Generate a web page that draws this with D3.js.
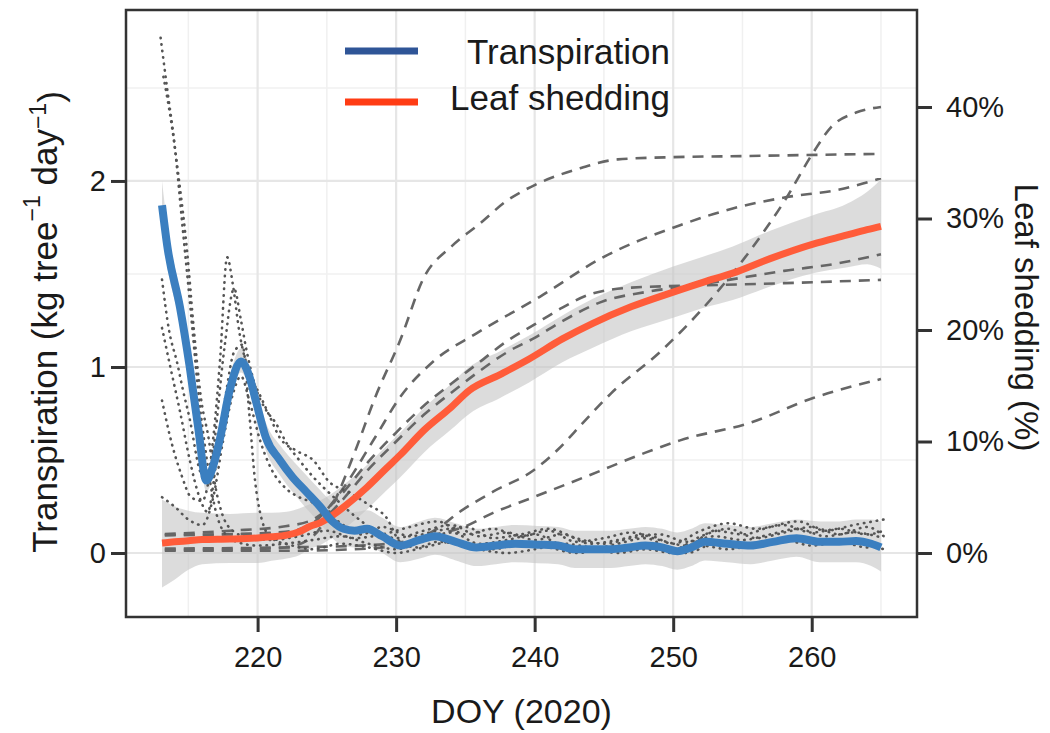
<!DOCTYPE html>
<html>
<head>
<meta charset="utf-8">
<script src="https://cdn.jsdelivr.net/npm/d3@7"></script>
<style>
    body { margin: 0; background: #fff; }
    text { font-family: "Liberation Sans", Arial, sans-serif; fill: #1a1a1a; }
</style>
</head>
<body>
<div id="chart"></div>
<script>

// ---- data ----

// mean transpiration (kg tree-1 day-1): [day, mean, lower, upper]
const trans_mean = [
    [213.1, 1.87, 1.72, 2.00], [213.5, 1.64, 1.53, 1.75], [214.4, 1.32, 1.24, 1.40],
    [215.1, 1.00, 0.93, 1.07], [215.7, 0.68, 0.62, 0.74], [216.3, 0.39, 0.33, 0.45],
    [216.8, 0.47, 0.41, 0.53], [217.3, 0.62, 0.56, 0.68], [218.0, 0.88, 0.82, 0.95],
    [218.8, 1.03, 0.97, 1.10], [219.4, 0.95, 0.89, 1.01], [219.9, 0.81, 0.75, 0.88],
    [220.6, 0.62, 0.55, 0.70], [221.6, 0.50, 0.42, 0.58], [222.5, 0.41, 0.33, 0.50],
    [223.5, 0.33, 0.24, 0.42], [224.5, 0.25, 0.16, 0.34], [225.4, 0.17, 0.08, 0.27],
    [226.2, 0.13, 0.04, 0.23], [227.0, 0.12, 0.03, 0.22], [227.9, 0.13, 0.04, 0.23],
    [229.0, 0.09, 0.00, 0.19], [230.3, 0.04, -0.05, 0.14], [231.7, 0.07, -0.03, 0.17],
    [232.8, 0.09, -0.01, 0.19], [234.3, 0.06, -0.04, 0.16], [235.8, 0.03, -0.07, 0.13],
    [237.2, 0.04, -0.06, 0.14], [238.6, 0.05, -0.05, 0.15], [240.2, 0.045, -0.055, 0.145],
    [241.7, 0.04, -0.06, 0.14], [242.9, 0.02, -0.08, 0.12], [244.2, 0.02, -0.08, 0.12],
    [245.5, 0.02, -0.08, 0.12], [246.8, 0.03, -0.07, 0.13], [248.0, 0.04, -0.06, 0.14],
    [249.2, 0.03, -0.07, 0.13], [250.3, 0.01, -0.09, 0.11], [251.3, 0.03, -0.07, 0.13],
    [252.3, 0.06, -0.04, 0.16], [253.9, 0.05, -0.05, 0.15], [255.6, 0.04, -0.06, 0.14],
    [257.2, 0.06, -0.04, 0.16], [258.9, 0.08, -0.02, 0.18], [260.6, 0.06, -0.05, 0.17],
    [262.0, 0.06, -0.05, 0.17], [263.2, 0.065, -0.05, 0.18], [264.3, 0.05, -0.07, 0.18],
    [265.0, 0.03, -0.10, 0.17]
];

// mean leaf shedding (%): [day, mean, lower, upper]
const leaf_mean = [
    [213.1, 0.9, -3.1, 4.8], [214.0, 1.0, -2.4, 4.2], [215.0, 1.1, -1.5, 3.8],
    [216.0, 1.2, -1.0, 3.6], [218.0, 1.25, -0.9, 3.5], [220.0, 1.35, -0.9, 3.6],
    [221.0, 1.45, -0.7, 3.6], [222.1, 1.6, -0.5, 3.7], [223.0, 1.9, -0.2, 4.0],
    [223.8, 2.4, 0.4, 4.4], [224.5, 2.7, 0.7, 4.7], [225.2, 3.2, 1.2, 5.2],
    [226.4, 4.3, 2.3, 6.3], [227.9, 5.9, 3.9, 7.9], [229.3, 7.6, 5.6, 9.6],
    [230.3, 8.8, 6.8, 10.8], [232.0, 11.0, 9.0, 13.0], [233.9, 13.0, 11.0, 15.1],
    [235.3, 14.6, 12.5, 16.7], [237.5, 16.0, 13.9, 18.1], [239.6, 17.4, 15.3, 19.5],
    [242.0, 19.2, 17.1, 21.3], [244.2, 20.6, 18.4, 22.8], [247.0, 22.1, 19.9, 24.3],
    [250.0, 23.4, 21.1, 25.7], [252.2, 24.3, 22.0, 26.6], [254.3, 25.1, 22.7, 27.5],
    [257.0, 26.4, 23.9, 28.9], [260.1, 27.7, 25.1, 30.3], [262.5, 28.5, 25.6, 31.3],
    [264.0, 29.0, 25.9, 32.4], [265.0, 29.3, 25.5, 33.5]
];

// individual trees, transpiration (dotted)
const tree_trans_1 = [[213.0,2.77],[213.5,2.48],[214.0,2.2],[214.6,1.74],[215.2,1.28],[215.7,0.88],[216.3,0.52],[216.9,0.25],[217.5,0.12],[218.5,0.06],[220,0.04],[222,0.05],[224,0.07],[226,0.09],[228,0.05],[230,0.02],[232,0.07],[234,0.11],[236,0.05],[238,0.07],[240,0.1],[242,0.04],[244,0.02],[246,0.05],[248,0.08],[250,0.02],[252,0.09],[254,0.13],[256,0.08],[258,0.11],[260,0.14],[262,0.1],[264,0.14],[265.2,0.09]];
const tree_trans_2 = [[213.2,2.56],[213.8,2.3],[214.3,2.02],[214.9,1.63],[215.4,1.2],[215.9,0.84],[216.5,0.6],[216.9,0.38],[217.4,0.22],[218.2,0.12],[219.5,0.08],[221,0.07],[223,0.09],[225,0.12],[227,0.08],[229,0.1],[231,0.14],[233,0.17],[235,0.1],[237,0.13],[239,0.09],[241,0.12],[243,0.06],[245,0.08],[247,0.11],[249,0.07],[251,0.04],[253,0.12],[255,0.1],[257,0.14],[259,0.17],[261,0.12],[263,0.15],[265.2,0.18]];
const tree_trans_3 = [[213.1,1.47],[213.6,1.2],[214.2,1.02],[214.6,0.88],[215.1,0.72],[215.8,0.45],[216.3,0.38],[216.8,0.62],[217.3,1.05],[217.8,1.59],[218.2,1.45],[218.7,1.18],[219.4,0.97],[220.1,0.86],[220.9,0.73],[221.6,0.62],[222.8,0.55],[224,0.5],[225.2,0.38],[226.5,0.33],[228,0.26],[229.3,0.19],[230.3,0.06],[231.5,0.03],[233,0.06],[235,0.04],[237,0.02],[239,0.05],[241,0.03],[243,0.0],[245,0.02],[247,0.04],[249,0.03],[251,0.0],[253,0.05],[255,0.03],[257,0.06],[259,0.08],[261,0.05],[263,0.06],[265.2,0.02]];
const tree_trans_4 = [[213.1,0.82],[213.8,0.59],[214.5,0.42],[215.2,0.3],[216,0.28],[216.8,0.55],[217.6,1.1],[218.3,1.42],[218.8,1.25],[219.2,1.09],[219.9,0.88],[220.6,0.77],[221.3,0.7],[222.1,0.59],[223,0.5],[224,0.41],[225.5,0.3],[227,0.2],[228.5,0.12],[230,0.08],[232,0.12],[234,0.15],[236,0.09],[238,0.11],[240,0.07],[242,0.1],[244,0.05],[246,0.07],[248,0.1],[250,0.05],[252,0.12],[254,0.16],[256,0.13],[258,0.15],[260,0.11],[262,0.13],[264,0.1],[265.2,0.12]];
const tree_trans_5 = [[213.1,1.21],[213.7,1.0],[214.4,0.76],[215.1,0.5],[215.8,0.3],[216.4,0.22],[217,0.48],[217.7,0.85],[218.3,1.08],[218.9,1.12],[219.4,0.75],[219.8,0.4],[220.3,0.18],[221,0.08],[222.5,0.04],[224,0.02],[226,0.05],[228,0.03],[230,0.0],[232,0.03],[234,0.06],[236,0.02],[238,0.0],[240,0.02],[242,0.05],[244,0.03],[246,0.0],[248,0.02],[250,0.0],[252,0.04],[254,0.02],[256,0.05],[258,0.07],[260,0.04],[262,0.06],[264,0.03],[265.2,0.05]];
const tree_trans_6 = [[213.1,0.3],[214,0.25],[215,0.18],[216,0.15],[216.8,0.3],[217.5,0.6],[218.2,0.85],[218.8,0.95],[219.4,0.82],[220.2,0.6],[221,0.45],[222,0.35],[223,0.3],[224,0.27],[225,0.22],[226,0.16],[227.5,0.1],[229,0.14],[231,0.09],[233,0.12],[235,0.14],[237,0.08],[239,0.1],[241,0.13],[243,0.08],[245,0.05],[247,0.08],[249,0.1],[251,0.06],[253,0.09],[255,0.07],[257,0.1],[259,0.13],[261,0.09],[263,0.11],[265.2,0.08]];

// individual trees, leaf shedding % (dashed)
const tree_leaf_1 = [[213.3,0.3],[218,0.3],[222,0.5],[224,1.5],[225.5,4.5],[227,9],[228.5,14],[230.3,19.1],[232,24.7],[234,27.5],[236,29.5],[238,31.6],[240,33.0],[243,34.4],[246,35.3],[250,35.5],[255,35.6],[265,35.8]];
const tree_leaf_2 = [[213.3,1.6],[218,1.7],[222,1.9],[224,2.7],[226,5.5],[228.5,10.4],[230.3,14],[232.7,17.2],[235.8,19.7],[240.4,23],[244.9,26.5],[250.5,29.4],[254.3,30.9],[258.1,31.9],[262,32.6],[265,33.6]];
const tree_leaf_3 = [[213.3,1.7],[218,2.0],[222,2.4],[224,3.0],[226,5.2],[228,8.2],[230,10.8],[232,13.2],[234,15.2],[236,17.1],[238,19],[240,20.5],[242,22],[244,23.2],[247,23.8],[252,24],[258,24.2],[265,24.5]];
const tree_leaf_4 = [[213.3,1.6],[222,1.8],[224,2.3],[226,4.6],[228,7.5],[230,10],[232,12.4],[234,14.4],[236,16.3],[238,18],[240,19.3],[242,20.8],[245,22.6],[248,23.4],[252,24.1],[255,24.7],[258,25.3],[262,26],[265,26.8]];
const tree_leaf_5 = [[213.3,0.2],[222,0.2],[228,0.4],[231,1],[233,2.2],[234.6,3.7],[237,5.5],[239.9,7.4],[241.7,9.3],[243.5,11.7],[245.5,14.3],[249.2,18.2],[253.1,23.3],[255.6,27.2],[258.1,31.7],[260.1,35.9],[261.4,38.2],[263.2,39.5],[265,40]];
const tree_leaf_6 = [[213.3,0.4],[222,0.5],[228,0.7],[231,1.1],[233,1.7],[234.8,2.3],[237,3.6],[239.9,5],[244,7],[248,9],[250.5,10.1],[255.6,11.7],[260.1,13.9],[265,15.6]];

const trans_trees = [tree_trans_1, tree_trans_2, tree_trans_3, tree_trans_4, tree_trans_5, tree_trans_6];
const leaf_trees = [tree_leaf_1, tree_leaf_2, tree_leaf_3, tree_leaf_4, tree_leaf_5, tree_leaf_6];

// axis ticks
const x_ticks = [220, 230, 240, 250, 260];
const x_minor = [215, 225, 235, 245, 255, 265];
const y_ticks = [0, 1, 2];
const y_minor = [0.5, 1.5, 2.5];
const leaf_ticks = [0, 10, 20, 30, 40];

const legend_labels = ["Transpiration", "Leaf shedding"];


// ---- frame ----
const frame_width = 1050;
const frame_height = 733;
const panel = {left: 126, right: 917, top: 10, bottom: 617};

const FRAME = d3.select("#chart")
    .append("svg")
        .attr("width", frame_width)
        .attr("height", frame_height);

// scales
const X_SCALE = d3.scaleLinear()
    .domain([210.5, 267.6])
    .range([panel.left, panel.right]);

const Y_SCALE = d3.scaleLinear()
    .domain([-0.344, 2.919])
    .range([panel.bottom, panel.top]);

// leaf shedding in percent on the right
const Y2_SCALE = d3.scaleLinear()
    .domain([-5.74, 48.7])
    .range([panel.bottom, panel.top]);

// grid lines
const grid = FRAME.append("g");
grid.selectAll(".vminor").data(x_minor).enter().append("line")
    .attr("x1", d => X_SCALE(d)).attr("x2", d => X_SCALE(d))
    .attr("y1", panel.top).attr("y2", panel.bottom)
    .attr("stroke", "#f0f0f0").attr("stroke-width", 1.5);
grid.selectAll(".hminor").data(y_minor).enter().append("line")
    .attr("y1", d => Y_SCALE(d)).attr("y2", d => Y_SCALE(d))
    .attr("x1", panel.left).attr("x2", panel.right)
    .attr("stroke", "#f0f0f0").attr("stroke-width", 1.5);
grid.selectAll(".vmajor").data(x_ticks).enter().append("line")
    .attr("x1", d => X_SCALE(d)).attr("x2", d => X_SCALE(d))
    .attr("y1", panel.top).attr("y2", panel.bottom)
    .attr("stroke", "#e6e6e6").attr("stroke-width", 2.2);
grid.selectAll(".hmajor").data(y_ticks).enter().append("line")
    .attr("y1", d => Y_SCALE(d)).attr("y2", d => Y_SCALE(d))
    .attr("x1", panel.left).attr("x2", panel.right)
    .attr("stroke", "#e6e6e6").attr("stroke-width", 2.2);

// clip to panel
FRAME.append("defs").append("clipPath")
    .attr("id", "clip")
    .append("rect")
        .attr("x", panel.left).attr("y", panel.top)
        .attr("width", panel.right - panel.left)
        .attr("height", panel.bottom - panel.top);

const plot = FRAME.append("g").attr("clip-path", "url(#clip)");

// ribbons
const trans_area = d3.area()
    .x(d => X_SCALE(d[0]))
    .y0(d => Y_SCALE(d[2]))
    .y1(d => Y_SCALE(d[3]))
    .curve(d3.curveMonotoneX);

const leaf_area = d3.area()
    .x(d => X_SCALE(d[0]))
    .y0(d => Y2_SCALE(d[2]))
    .y1(d => Y2_SCALE(d[3]))
    .curve(d3.curveMonotoneX);

plot.append("path").datum(leaf_mean)
    .attr("d", leaf_area)
    .attr("fill", "#c4c4c4").attr("opacity", 0.6);

plot.append("path").datum(trans_mean)
    .attr("d", trans_area)
    .attr("fill", "#c4c4c4").attr("opacity", 0.6);

// individual tree lines
const trans_line = d3.line()
    .x(d => X_SCALE(d[0]))
    .y(d => Y_SCALE(d[1]))
    .curve(d3.curveMonotoneX);

const leaf_line = d3.line()
    .x(d => X_SCALE(d[0]))
    .y(d => Y2_SCALE(d[1]))
    .curve(d3.curveMonotoneX);

plot.selectAll(".tree_leaf").data(leaf_trees).enter().append("path")
    .attr("d", leaf_line)
    .attr("fill", "none")
    .attr("stroke", "#666")
    .attr("stroke-width", 2.6)
    .attr("stroke-dasharray", "11,8");

plot.selectAll(".tree_trans").data(trans_trees).enter().append("path")
    .attr("d", trans_line)
    .attr("fill", "none")
    .attr("stroke", "#555")
    .attr("stroke-width", 2.6)
    .attr("stroke-linecap", "round")
    .attr("stroke-dasharray", "0.5,6");

// mean lines
plot.append("path").datum(leaf_mean)
    .attr("d", leaf_line)
    .attr("fill", "none")
    .attr("stroke", "#ff5c3a")
    .attr("stroke-width", 7);

plot.append("path").datum(trans_mean)
    .attr("d", trans_line)
    .attr("fill", "none")
    .attr("stroke", "#3b7fc0")
    .attr("stroke-width", 8);

// panel border
FRAME.append("rect")
    .attr("x", panel.left).attr("y", panel.top)
    .attr("width", panel.right - panel.left)
    .attr("height", panel.bottom - panel.top)
    .attr("fill", "none")
    .attr("stroke", "#333")
    .attr("stroke-width", 2.5);

// axes
const xAxis = FRAME.append("g")
    .attr("transform", "translate(0," + panel.bottom + ")")
    .call(d3.axisBottom(X_SCALE).tickValues(x_ticks).tickSize(15).tickPadding(14).tickFormat(d3.format("d")));

const yAxis = FRAME.append("g")
    .attr("transform", "translate(" + panel.left + ",0)")
    .call(d3.axisLeft(Y_SCALE).tickValues(y_ticks).tickSize(15).tickPadding(5).tickFormat(d3.format("d")));

const y2Axis = FRAME.append("g")
    .attr("transform", "translate(" + panel.right + ",0)")
    .call(d3.axisRight(Y2_SCALE).tickValues(leaf_ticks).tickSize(15).tickPadding(14).tickFormat(d => d + "%"));

[xAxis, yAxis, y2Axis].forEach(ax => {
    ax.select(".domain").remove();
    ax.selectAll(".tick line").attr("stroke", "#333").attr("stroke-width", 3);
    ax.selectAll(".tick text").attr("font-size", "29px").attr("fill", "#1a1a1a")
        .style("font-family", "'Liberation Sans', Arial, sans-serif");
});

// axis titles
FRAME.append("text")
    .attr("x", (panel.left + panel.right) / 2)
    .attr("y", 723)
    .attr("text-anchor", "middle")
    .attr("font-size", "34px")
    .text("DOY (2020)");

FRAME.append("text")
    .attr("transform", "translate(1015," + ((panel.top + panel.bottom) / 2 + 4) + ") rotate(90)")
    .attr("text-anchor", "middle")
    .attr("font-size", "33px")
    .text("Leaf shedding (%)");

let ytitle = FRAME.append("text")
    .attr("transform", "translate(57,322) rotate(-90)")
    .attr("text-anchor", "middle")
    .attr("font-size", "35px");
ytitle.append("tspan").text("Transpiration (kg tree");
ytitle.append("tspan").attr("font-size", "23px").attr("dy", "-0.75em").text("\u22121");
ytitle.append("tspan").attr("dy", "0.5em").text(" day");
ytitle.append("tspan").attr("font-size", "23px").attr("dy", "-0.5em").text("\u22121");
ytitle.append("tspan").attr("dy", "0.5em").text(")");

// legend
const legend_colors = ["#2f5597", "#ff3c14"];
const legend = FRAME.append("g");
legend.selectAll("line").data(legend_labels).enter().append("line")
    .attr("x1", 345).attr("x2", 418)
    .attr("y1", (d, i) => 51 + i * 51)
    .attr("y2", (d, i) => 51 + i * 51)
    .attr("stroke", (d, i) => legend_colors[i])
    .attr("stroke-width", 7);
legend.selectAll("text").data(legend_labels).enter().append("text")
    .attr("x", 670)
    .attr("y", (d, i) => 64 + i * 46)
    .attr("text-anchor", "end")
    .attr("font-size", "35px")
    .attr("fill", "#111")
    .text(d => d);

</script>
</body>
</html>
